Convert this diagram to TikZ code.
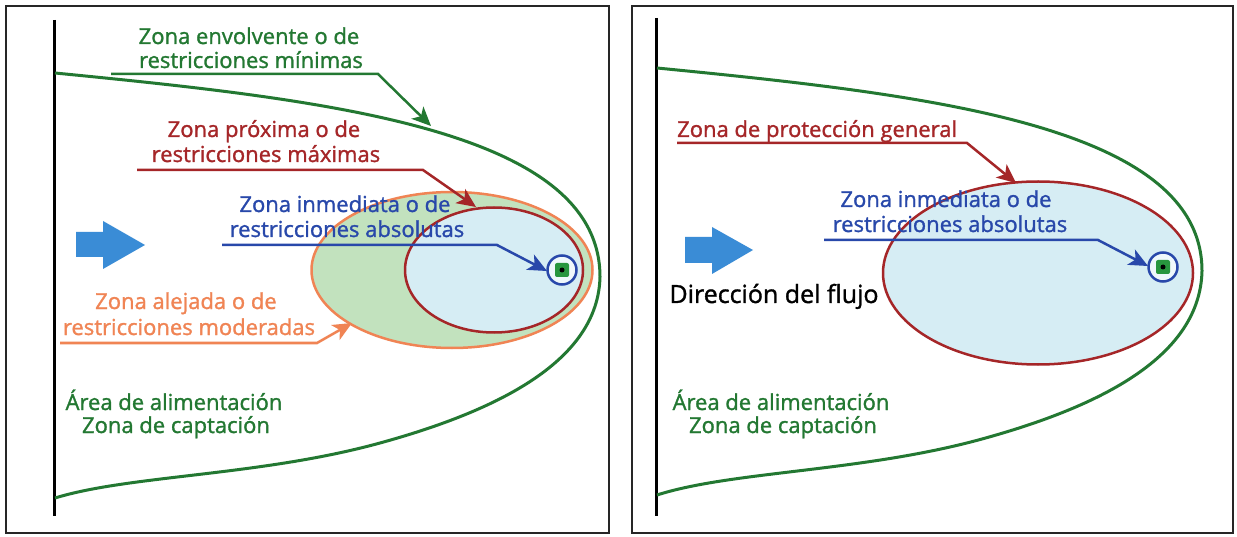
\documentclass[tikz,border=0pt]{standalone}
\usepackage{fontspec}
\setmainfont{Open Sans}
\newfontfamily\semib{Open Sans}[FakeBold=1.3]
\usetikzlibrary{arrows.meta,shapes.geometric}
\definecolor{cgreen}{RGB}{35,120,50}
\definecolor{cred}{RGB}{165,38,40}
\definecolor{cblue}{RGB}{40,72,170}
\definecolor{corange}{RGB}{240,132,84}
\definecolor{cflow}{RGB}{58,140,214}
\definecolor{lgreen}{RGB}{194,226,190}
\definecolor{lblue}{RGB}{214,237,244}
\definecolor{csq}{RGB}{40,150,62}
\tikzset{
  frame/.style={draw=black!85, line width=2pt},
  axisline/.style={draw=black, line width=3pt},
  envcurve/.style={draw=cgreen, line width=3pt},
  leader/.style={line width=2.5pt, -{Stealth[length=19pt,width=17pt,inset=5pt]}},
  lbl/.style={font=\semib\fontsize{22}{25}\selectfont, inner sep=0pt, anchor=base},
  bigl/.style={font=\semib\fontsize{25}{28}\selectfont, inner sep=0pt, anchor=base},
  zone/.style={ellipse, line width=2.5pt, inner sep=0pt},
  flowarrow/.style={fill=cflow},
  well/.style={circle, draw=cblue, fill=lblue!40, line width=2.5pt, minimum size=29pt, inner sep=0pt},
  wellsq/.style={fill=csq, rounded corners=2pt, minimum size=14pt, inner sep=0pt},
}
\begin{document}
\begin{tikzpicture}[x=1pt,y=-1pt]
\useasboundingbox (0,0) rectangle (1237,537);
\fill[white] (0,0) rectangle (1237,537);
% ---------------- LEFT PANEL ----------------
\draw[frame] (6,6) rectangle (609,533);
\node[zone, draw=corange, fill=lgreen, minimum width=281pt, minimum height=156pt] (orz) at (452,270) {};
\node[zone, draw=cred, fill=lblue, minimum width=178pt, minimum height=125pt] (rz) at (494,270) {};
\draw[axisline] (54,20) -- (54,516);
\draw[envcurve] (55,73) .. controls (330,100) and (600,130) .. (600,277)
  .. controls (598,360) and (500,410) .. (380,443)
  .. controls (260,476) and (130,475) .. (55,498);
\node[well] (w1) at (562,270) {};
\node[wellsq] (s1) at (w1.center) {};
\fill[black] (s1.center) circle (2.5pt);
\fill[flowarrow] (76,232) -- (103,232) -- (103,221) -- (145,245) -- (103,269) -- (103,257) -- (76,257) -- cycle;
% labels
\node[lbl, text=cgreen] (env1) at (249,44) {Zona envolvente o de};
\node[lbl, text=cgreen] (env2) at (251,68) {restricciones mínimas};
\node[lbl, text=cred] (pro1) at (264,137) {Zona próxima o de};
\node[lbl, text=cred] (pro2) at (266,162) {restricciones máximas};
\node[lbl, text=cblue] (inm1) at (345,212) {Zona inmediata o de};
\node[lbl, text=cblue] (inm2) at (347,237) {restricciones absolutas};
\node[lbl, text=corange] (ale1) at (186,309) {Zona alejada o de};
\node[lbl, text=corange] (ale2) at (189,335) {restricciones moderadas};
\node[lbl, text=cgreen] (are1) at (174,410) {Área de alimentación};
\node[lbl, text=cgreen] (are2) at (176,433) {Zona de captación};
% leaders
\coordinate (gA) at (111,74); \coordinate (gB) at (378,74); \coordinate (gC) at (431,126);
\coordinate (rA) at (137,170); \coordinate (rB) at (423,170); \coordinate (rC) at (476,207);
\coordinate (bA) at (222,245); \coordinate (bB) at (497,245); \coordinate (bC) at (547,271);
\coordinate (oA) at (60,343); \coordinate (oB) at (317,343); \coordinate (oC) at (352,323);
\draw[leader, cgreen] (gA) -- (gB) -- (gC);
\draw[leader, cred] (rA) -- (rB) -- (rC);
\draw[leader, cblue] (bA) -- (bB) -- (bC);
\draw[leader, corange] (oA) -- (oB) -- (oC);
% ---------------- RIGHT PANEL ----------------
\draw[frame] (632,6) rectangle (1233,533);
\node[zone, draw=cred, fill=lblue, minimum width=310pt, minimum height=183pt] (rz2) at (1038,273) {};
\draw[axisline] (656,18) -- (656,516);
\begin{scope}[shift={(602,-4)}]
\draw[envcurve] (55,72) .. controls (330,99) and (600,130) .. (600,275)
  .. controls (598,360) and (500,410) .. (380,443)
  .. controls (260,476) and (130,475) .. (55,499);
\end{scope}
\node[well] (w2) at (1163,267) {};
\node[wellsq] (s2) at (w2.center) {};
\fill[black] (s2.center) circle (2.5pt);
\fill[flowarrow] (685,237) -- (712,237) -- (712,227) -- (753,250) -- (712,274) -- (712,263) -- (685,263) -- cycle;
\node[lbl, text=cred, anchor=base west] (gen) at (677,137) {Zona de protección general};
\node[lbl, text=cblue] (inm3) at (946,207) {Zona inmediata o de};
\node[lbl, text=cblue] (inm4) at (950,232) {restricciones absolutas};
\node[bigl, text=black] (dir) at (774,303) {Dirección del flujo};
\node[lbl, text=cgreen] (are3) at (781,410) {Área de alimentación};
\node[lbl, text=cgreen] (are4) at (783,433) {Zona de captación};
\coordinate (r2A) at (677,143); \coordinate (r2B) at (967,143); \coordinate (r2C) at (1016,183);
\coordinate (b2A) at (824,240); \coordinate (b2B) at (1098,240); \coordinate (b2C) at (1148,266);
\draw[leader, cred] (r2A) -- (r2B) -- (r2C);
\draw[leader, cblue] (b2A) -- (b2B) -- (b2C);
\end{tikzpicture}
\end{document}
